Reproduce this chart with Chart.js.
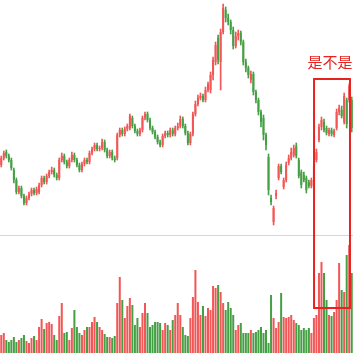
<!DOCTYPE html>
<html>
<head>
<meta charset="utf-8">
<script src="https://cdn.jsdelivr.net/npm/chart.js@4/dist/chart.umd.min.js"></script>
<style>
  html, body { margin: 0; padding: 0; background: #fff; }
  #wrap { width: 353px; height: 353px; }
</style>
</head>
<body>
<div id="wrap"><canvas id="kChart" width="353" height="353"></canvas></div>
<script>
// daily candles, price units are arbitrary
const open = [
  75, 82, 88, 84, 80, 70, 60, 48, 52, 44,
  37, 42, 46, 50, 47, 48, 55, 62, 58, 64,
  68, 70, 65, 62, 80, 84, 78, 74, 80, 85,
  80, 75, 70, 76, 80, 78, 87, 91, 95, 91,
  92, 98, 90, 84, 88, 82, 82, 105, 110, 106,
  111, 112, 122, 114, 109, 106, 110, 122, 126, 120,
  112, 108, 103, 98, 95, 104, 107, 105, 110, 106,
  112, 114, 121, 114, 107, 97, 106, 126, 136, 142,
  144, 140, 150, 150, 165, 178, 202, 178, 208, 230,
  222, 218, 210, 194, 204, 207, 198, 178, 172, 160,
  166, 148, 140, 128, 122, 105, 83, 42, 18, 44,
  62, 74, 53, 60, 77, 82, 85, 94, 80, 68,
  65, 62, 58, 54, 62, 80, 100, 113, 118, 112,
  106, 110, 105, 112, 128, 130, 118, 140, 140, 140
];
const close = [
  82, 87, 84, 80, 72, 60, 48, 52, 44, 37,
  42, 46, 50, 47, 51, 55, 62, 58, 64, 68,
  70, 65, 62, 80, 84, 78, 74, 80, 85, 80,
  75, 70, 76, 80, 78, 87, 91, 95, 91, 92,
  98, 90, 84, 88, 82, 80, 105, 110, 106, 111,
  114, 124, 114, 109, 106, 110, 122, 126, 120, 112,
  108, 103, 98, 95, 104, 107, 105, 110, 106, 112,
  114, 121, 114, 107, 97, 106, 126, 136, 142, 144,
  140, 150, 156, 165, 180, 195, 180, 208, 232, 222,
  218, 210, 194, 204, 207, 198, 178, 172, 165, 166,
  148, 140, 128, 118, 105, 95, 50, 38, 32, 47,
  74, 68, 60, 75, 82, 88, 92, 84, 64, 55,
  60, 50, 54, 60, 74, 88, 113, 120, 110, 107,
  110, 106, 109, 128, 132, 124, 144, 116, 154, 112
];
const high = [
  84, 89, 90, 86, 82, 72, 62, 54, 54, 46,
  44, 48, 52, 52, 53, 57, 64, 64, 66, 70,
  73, 72, 67, 82, 87, 86, 80, 82, 88, 87,
  82, 77, 78, 82, 82, 89, 93, 97, 97, 94,
  101, 100, 92, 90, 90, 84, 107, 112, 112, 113,
  116, 126, 124, 116, 111, 112, 124, 128, 128, 122,
  114, 110, 105, 100, 106, 109, 109, 112, 112, 114,
  117, 124, 123, 116, 109, 108, 128, 139, 145, 147,
  146, 153, 158, 168, 183, 198, 205, 211, 236, 233,
  226, 220, 213, 208, 210, 209, 200, 181, 174, 169,
  168, 150, 142, 130, 125, 107, 86, 45, 34, 50,
  76, 76, 62, 78, 85, 92, 95, 97, 82, 70,
  68, 64, 60, 62, 76, 91, 116, 123, 121, 114,
  112, 112, 111, 131, 135, 134, 147, 142, 156, 143
];
const low = [
  73, 80, 82, 78, 70, 57, 46, 46, 42, 35,
  35, 40, 44, 45, 45, 46, 53, 56, 56, 62,
  66, 63, 60, 60, 78, 76, 72, 72, 78, 78,
  73, 68, 68, 74, 76, 76, 85, 89, 89, 89,
  90, 88, 82, 82, 80, 78, 80, 103, 104, 104,
  109, 110, 112, 107, 104, 104, 108, 120, 118, 110,
  106, 101, 96, 93, 93, 102, 103, 103, 104, 104,
  110, 112, 112, 105, 95, 95, 104, 124, 134, 140,
  138, 138, 148, 147, 160, 175, 176, 150, 206, 218,
  215, 206, 191, 192, 200, 195, 175, 168, 162, 157,
  145, 137, 125, 113, 100, 90, 45, 35, 15, 41,
  60, 66, 51, 58, 75, 80, 83, 82, 62, 52,
  58, 47, 52, 52, 60, 78, 98, 110, 108, 105,
  104, 104, 103, 110, 125, 122, 116, 112, 138, 108
];
const volume = [
  18, 20, 13, 11, 13, 16, 11, 13, 15, 18,
  12, 10, 15, 17, 13, 26, 34, 24, 30, 31,
  29, 18, 13, 37, 50, 20, 21, 13, 25, 43,
  26, 20, 18, 23, 26, 26, 31, 36, 31, 26,
  23, 19, 16, 16, 15, 17, 50, 76, 53, 35,
  47, 55, 48, 28, 35, 26, 40, 50, 40, 26,
  28, 31, 31, 30, 23, 30, 28, 23, 33, 38,
  50, 38, 26, 18, 17, 35, 56, 83, 51, 38,
  47, 37, 45, 43, 67, 65, 68, 61, 50, 43,
  51, 45, 38, 23, 28, 30, 20, 20, 20, 23,
  20, 21, 23, 26, 20, 23, 10, 58, 35, 25,
  31, 60, 36, 35, 36, 38, 33, 30, 28, 23,
  25, 23, 25, 20, 35, 38, 80, 91, 80, 53,
  38, 37, 41, 53, 90, 63, 61, 98, 108, 80
];
const days = open.map((_, i) => 'D' + (i + 1));

// marked region (index range, price top, volume bottom) and its note
const markFrom = 124.05, markTo = 138.3, markTop = 161, markBottom = 45;
const markText = '是不是';

const UP = '#f25656';
const DOWN = '#45a045';
const colors = open.map((o, i) => close[i] >= o ? UP : DOWN);

const overlay = {
  id: 'overlay',
  beforeDatasetsDraw(chart) {
    const { ctx, chartArea, scales } = chart;
    const y = Math.round(scales.y.getPixelForValue(5)) + 0.5;
    ctx.save();
    ctx.strokeStyle = '#d6d6d6';
    ctx.lineWidth = 1;
    ctx.beginPath();
    ctx.moveTo(chartArea.left, y);
    ctx.lineTo(chartArea.right, y);
    ctx.stroke();
    ctx.restore();
  },
  afterDatasetsDraw(chart) {
    const { ctx, scales } = chart;
    const x1 = scales.x.getPixelForValue(markFrom);
    const x2 = scales.x.getPixelForValue(markTo);
    const y1 = scales.y.getPixelForValue(markTop);
    const y2 = scales.v.getPixelForValue(markBottom);
    ctx.save();
    ctx.strokeStyle = '#e8221e';
    ctx.lineWidth = 2;
    ctx.strokeRect(x1, y1, x2 - x1, y2 - y1);
    ctx.fillStyle = '#e8221e';
    ctx.font = '15px "Noto Sans CJK SC", sans-serif';
    ctx.textAlign = 'center';
    ctx.textBaseline = 'middle';
    ctx.fillText(markText, (x1 + x2) / 2 - 2, y1 - 17);
    ctx.restore();
  }
};

new Chart(document.getElementById('kChart'), {
  type: 'bar',
  data: {
    labels: days,
    datasets: [
      {
        label: 'wick',
        data: low.map((l, i) => [l, high[i]]),
        backgroundColor: colors,
        barThickness: 1,
        grouped: false,
        yAxisID: 'y'
      },
      {
        label: 'body',
        data: open.map((o, i) => [o, close[i]]),
        backgroundColor: colors,
        barPercentage: 0.8,
        categoryPercentage: 1,
        minBarLength: 1,
        grouped: false,
        yAxisID: 'y'
      },
      {
        label: 'volume',
        data: volume,
        backgroundColor: colors,
        barPercentage: 0.8,
        categoryPercentage: 1,
        grouped: false,
        yAxisID: 'v'
      }
    ]
  },
  options: {
    responsive: false,
    animation: false,
    devicePixelRatio: 1,
    layout: { padding: 0 },
    plugins: { legend: { display: false }, tooltip: { enabled: false } },
    scales: {
      x: { display: false, offset: true },
      y: { display: false, min: -113, max: 240 },
      v: { display: false, min: 0, max: 353 }
    }
  },
  plugins: [overlay]
});
</script>
</body>
</html>
